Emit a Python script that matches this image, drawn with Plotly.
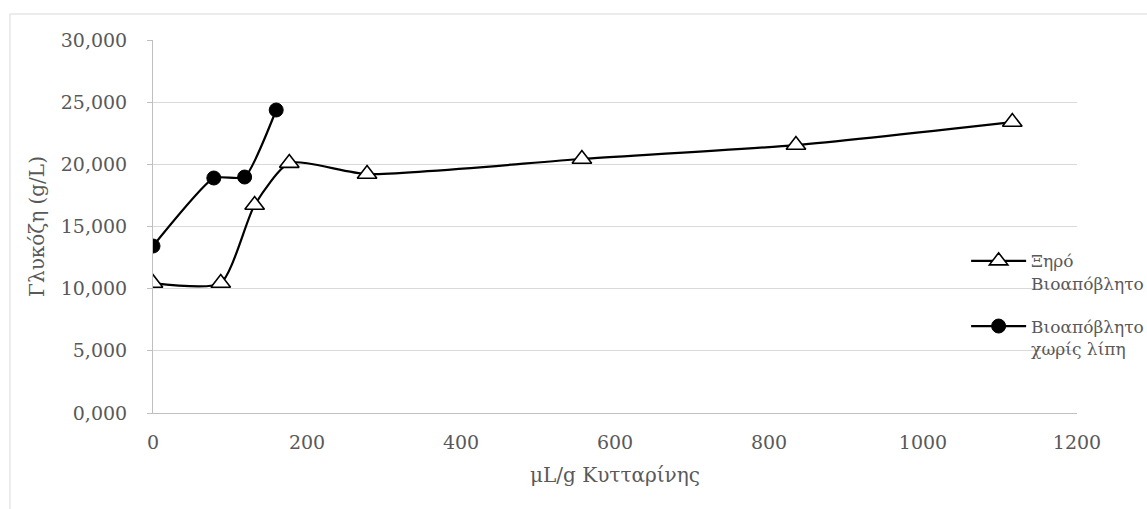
import plotly.graph_objects as go

# Data
dry_x = [0, 88, 132, 177, 278, 557, 835, 1116]
dry_y = [10450, 10450, 16730, 20100, 19220, 20430, 21550, 23400]
nofat_x = [0, 79, 119, 160]
nofat_y = [13430, 18900, 18980, 24370]

y_ticks = [0, 5000, 10000, 15000, 20000, 25000, 30000]
y_tick_text = ["0,000", "5,000", "10,000", "15,000", "20,000", "25,000", "30,000"]
x_ticks = [0, 200, 400, 600, 800, 1000, 1200]

FONT = "DejaVu Serif"
GRAY = "#595959"

fig = go.Figure()
fig.add_trace(go.Scatter(
    x=dry_x, y=dry_y, mode="lines+markers", name="Ξηρό<br>Βιοαπόβλητο",
    legendgroup="a",
    line=dict(color="black", width=2.2, shape="spline", smoothing=0.6),
    marker=dict(symbol="triangle-up", size=17, color="white",
                line=dict(color="black", width=1.6)),
))
fig.add_trace(go.Scatter(
    x=nofat_x, y=nofat_y, mode="lines+markers", name="Βιοαπόβλητο<br>χωρίς λίπη",
    legendgroup="b",
    line=dict(color="black", width=2.2, shape="spline", smoothing=0.5),
    marker=dict(symbol="circle", size=14, color="black",
                line=dict(color="black", width=1)),
))

fig.update_layout(
    width=1147, height=509,
    margin=dict(l=153, r=70, t=40, b=96, autoexpand=False),
    paper_bgcolor="white", plot_bgcolor="white",
    font=dict(family=FONT, size=19, color=GRAY),
    showlegend=True,
    legend=dict(x=0.88, y=0.455, xanchor="left", yanchor="top",
                bgcolor="rgba(0,0,0,0)", valign="top",
                font=dict(family=FONT, size=17, color=GRAY),
                itemwidth=55, tracegroupgap=18),
    xaxis=dict(range=[0, 1200], tickvals=x_ticks, showgrid=False,
               showline=True, linecolor="#bfbfbf", linewidth=1,
               ticks="", zeroline=False, ticklabelstandoff=12,
               tickfont=dict(family=FONT, size=19, color=GRAY),
               title=dict(text="μL/g Κυτταρίνης", standoff=16,
                          font=dict(family=FONT, size=20, color=GRAY))),
    yaxis=dict(range=[0, 30000], tickvals=y_ticks, ticktext=y_tick_text,
               showgrid=True, gridcolor="#d9d9d9", gridwidth=1,
               showline=True, linecolor="#bfbfbf", linewidth=1,
               ticks="outside", ticklen=5, tickcolor="#bfbfbf",
               zeroline=False, ticklabelstandoff=16,
               tickfont=dict(family=FONT, size=19, color=GRAY),
               title=dict(text="Γλυκόζη (g/L)", standoff=10,
                          font=dict(family=FONT, size=20, color=GRAY))),
    shapes=[dict(type="rect", xref="paper", yref="paper",
                 x0=-0.1548, x1=1.3, y0=-0.5, y1=1.0697,
                 line=dict(color="#d9d9d9", width=1), layer="below")],
)

fig.write_html("out.html")
